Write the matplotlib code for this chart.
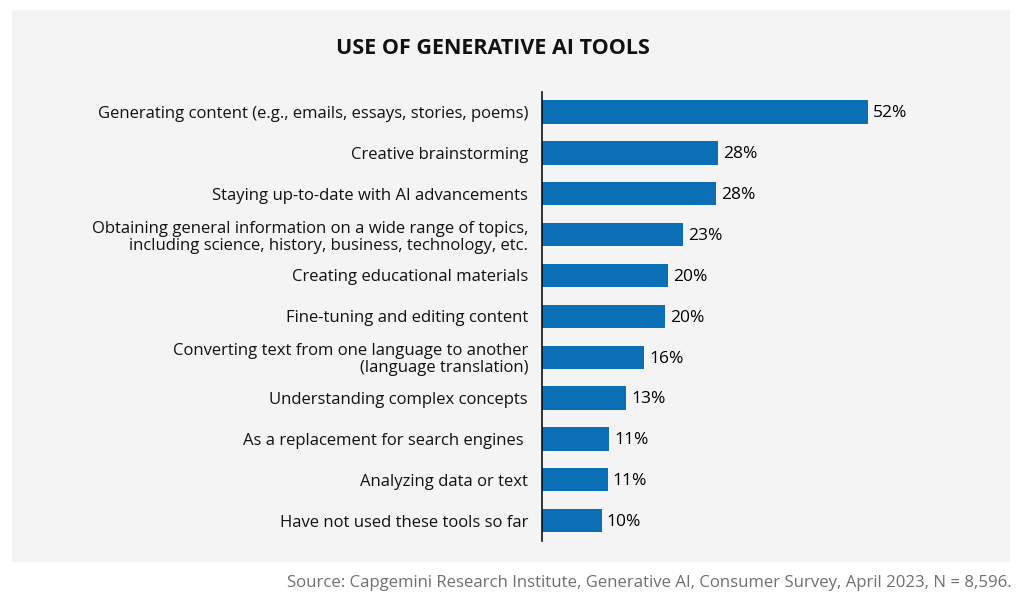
import matplotlib
matplotlib.use("Agg")
import matplotlib.pyplot as plt
from matplotlib.patches import Rectangle

categories = [
    "Generating content (e.g., emails, essays, stories, poems)",
    "Creative brainstorming",
    "Staying up-to-date with AI advancements",
    "Obtaining general information on a wide range of topics,\nincluding science, history, business, technology, etc.",
    "Creating educational materials",
    "Fine-tuning and editing content",
    "Converting text from one language to another\n(language translation)",
    "Understanding complex concepts",
    "As a replacement for search engines ",
    "Analyzing data or text",
    "Have not used these tools so far",
]
values = [52.0, 28.15, 27.83, 22.56, 20.17, 19.64, 16.29, 13.46, 10.75, 10.54, 9.58]
value_labels = ["52%", "28%", "28%", "23%", "20%", "20%", "16%", "13%", "11%", "11%", "10%"]

title = "USE OF GENERATIVE AI TOOLS"
source = "Source: Capgemini Research Institute, Generative AI, Consumer Survey, April 2023, N = 8,596."

FONT = ["Open Sans", "DejaVu Sans"]
plt.rcParams["font.family"] = FONT

W, H = 1024, 608
fig = plt.figure(figsize=(W / 100, H / 100), dpi=100)
fig.patch.set_facecolor("white")

# grey panel
fig.patches.append(Rectangle((12 / W, 1 - 562 / H), (1010 - 12) / W, (562 - 10) / H,
                             transform=fig.transFigure, facecolor="#f4f4f4",
                             edgecolor="none", zorder=-10))

ax = fig.add_axes([542 / W, 1 - 541.1 / H, 458 / W, (541.1 - 91.6) / H])
ax.set_facecolor("none")
ax.set_zorder(1)

y = list(range(len(categories)))
bar_color = "#0a6fb4"
ax.barh(y, values, height=0.57, color=bar_color, edgecolor="none")
ax.set_ylim(len(categories) - 0.5, -0.5)
ax.set_xlim(0, 73.1)

ax.set_yticks(y)
ax.set_yticklabels(categories, fontsize=12, color="#111111", linespacing=1.1)
ax.tick_params(axis="y", length=0, pad=10)
ax.set_xticks([])

for s in ["top", "right", "bottom"]:
    ax.spines[s].set_visible(False)
ax.spines["left"].set_linewidth(1.2)
ax.spines["left"].set_color("#111111")

for yi, v, lab in zip(y, values, value_labels):
    ax.annotate(lab, xy=(v, yi), xytext=(3.5, -1), textcoords="offset points",
                ha="left", va="center", fontsize=12.5, color="#000000")

fig.text(493 / W, 1 - 48 / H, title, ha="center", va="center",
         fontsize=15.5, fontweight="bold", color="#111111")
fig.text(1012 / W, 1 - 583 / H, source, ha="right", va="center",
         fontsize=12.1, color="#707070")

fig.savefig("out.png", dpi=100, facecolor=fig.get_facecolor())
